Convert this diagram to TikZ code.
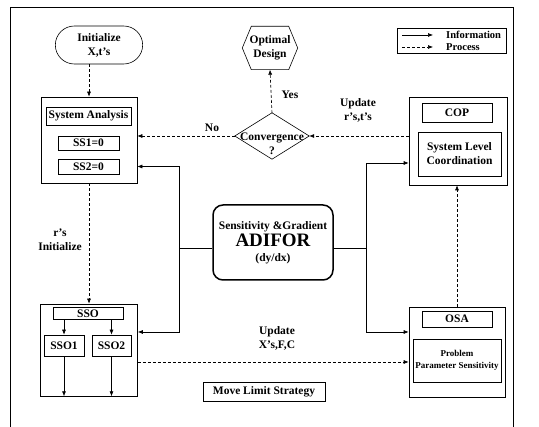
\documentclass[tikz,border=0pt]{standalone}
\usepackage{fontspec}
\setmainfont{Liberation Serif}
\usetikzlibrary{positioning, arrows.meta, shapes.misc}

\begin{document}
\begin{tikzpicture}[
    x=1pt, y=-1pt,
    every node/.style = {font=\bfseries\fontsize{11.5}{14}\selectfont, align=center},
    block/.style    = {rectangle, draw, line width=0.6pt, inner sep=0pt},
    subblock/.style = {rectangle, draw, line width=0.6pt, inner sep=1pt},
    startnode/.style= {rounded rectangle, draw, line width=0.6pt,
                       minimum width=94pt, minimum height=38pt},
    coreblock/.style= {rectangle, rounded corners=10pt, draw, line width=1.5pt,
                       minimum width=120pt, minimum height=75pt, inner sep=1pt},
    note/.style     = {inner sep=0pt},
    arr/.style      = {-{Latex[length=5pt,width=4pt]}, line width=0.6pt},
    darr/.style     = {arr, dash pattern=on 3pt off 2pt}
]
\useasboundingbox (0,0) rectangle (539,427);
\draw[line width=0.6pt] (10,427) -- (10,7) -- (513,7) -- (513,427);

% top row
\node[startnode] (init) at (99,45) {Initialize\\X,t's};
\node[note, minimum width=55pt, minimum height=43pt] (optd) at (270,48) {Optimal\\Design};
\draw[line width=0.6pt] (optd.west) -- ([xshift=9pt]optd.north west) -- ([xshift=-9pt]optd.north east)
    -- (optd.east) -- ([xshift=-9pt]optd.south east) -- ([xshift=9pt]optd.south west) -- cycle;
\node[note, minimum width=74pt, minimum height=46pt] (conv) at (272,136) {\rule{0pt}{24pt}Convergence\\?};
\draw[line width=0.6pt] (conv.west) -- (conv.north) -- (conv.east) -- (conv.south) -- cycle;

% legend
\node[block, minimum width=109pt, minimum height=25pt] (legend) at (451.5,40.5) {};
\node[note, anchor=west, font=\bfseries\fontsize{10.5}{12}\selectfont] (leginfo) at (446,35) {Information};
\node[note, anchor=west, font=\bfseries\fontsize{10.5}{12}\selectfont] (legproc) at (446,47) {Process};
\draw[arr]  ([xshift=-44pt]leginfo.west) -- ([xshift=-13pt]leginfo.west);
\draw[darr] ([xshift=-44pt]legproc.west) -- ([xshift=-13pt]legproc.west);

% system analysis
\node[block, minimum width=96pt, minimum height=86pt] (sa) at (89,140) {};
\node[subblock, minimum width=85pt, minimum height=18pt] (sahead) at (88.5,116) {System Analysis};
\node[subblock, minimum width=61pt, minimum height=14pt] (ss1) at (88.5,143) {SS1=0};
\node[subblock, minimum width=61pt, minimum height=15pt] (ss2) at (88.5,166.5) {SS2=0};

% coordination
\node[block, minimum width=98pt, minimum height=88pt] (cop) at (458,141) {};
\node[subblock, minimum width=70pt, minimum height=19pt] (cophead) at (457,113) {COP};
\node[subblock, minimum width=83pt, minimum height=44pt] (slc) at (459.5,154) {System Level\\Coordination};

% sensitivity
\node[coreblock] (adifor) at (273,242.5)
    {Sensitivity \&Gradient\\[1pt]{\fontsize{19}{20}\selectfont ADIFOR}\\[1pt](dy/dx)};

% subsystem optimization
\node[block, minimum width=97pt, minimum height=92pt] (sso) at (89,350) {};
\node[subblock, minimum width=70pt, minimum height=12pt] (ssohead) at (88,313.5) {SSO};
\node[subblock, minimum width=40pt, minimum height=21pt] (sso1) at (64,345.5) {SSO1};
\node[subblock, minimum width=39pt, minimum height=21pt] (sso2) at (111.5,345.5) {SSO2};

% optimum sensitivity
\node[block, minimum width=96pt, minimum height=90pt] (osa) at (457,352) {};
\node[subblock, minimum width=70pt, minimum height=16pt] (osahead) at (457,319) {OSA};
\node[subblock, minimum width=88pt, minimum height=43pt,
      font=\bfseries\fontsize{9}{12}\selectfont] (pps) at (457,360.5) {Problem\\Parameter Sensitivity};

\node[subblock, minimum width=122pt, minimum height=19pt] (mls) at (264,391.5) {Move Limit Strategy};

% labels
\node[note] (no)   at (212,128) {No};
\node[note] (yes)  at (290,95)  {Yes};
\node[note] (updr) at (358,110) {Update\\r's,t's};
\node[note] (rini) at (60,240)  {r's\\Initialize};
\node[note] (updx) at (277,338) {Update\\X's,F,C};

% process flow
\draw[darr] (sa.north |- init.south) -- (sa.north);
\draw[darr] (conv.north) -- (optd.south);
\draw[darr] (conv.west) -- (conv.west -| sa.east);
\draw[darr] (cop.west |- conv.east) -- (conv.east);
\draw[darr] (sa.south) -- (sso.north);
\draw[darr] ([yshift=-12pt]sso.east) -- ([yshift=-12pt]sso.east -| osa.west);
\draw[darr] (osa.north) -- (osa.north |- cop.south);

% information flow
\draw[arr] ([yshift=-6pt]adifor.west) -- ++(-33,0) |- (sa.east |- ss2);
\draw[arr] ([yshift=-6pt]adifor.west) -- ++(-33,0) |- ([yshift=18pt]sso.east);
\draw[arr] ([yshift=-6pt]adifor.east) -- ++(33,0) |- ([yshift=-22pt]cop.west);
\draw[arr] ([yshift=-6pt]adifor.east) -- ++(33,0) |- ([yshift=20pt]osa.west);
\draw[arr] (ssohead.south -| sso1.north) -- (sso1.north);
\draw[arr] (ssohead.south -| sso2.north) -- (sso2.north);
\draw[arr] (sso1.south) -- (sso1.south |- sso.south);
\draw[arr] (sso2.south) -- (sso2.south |- sso.south);
\end{tikzpicture}
\end{document}
